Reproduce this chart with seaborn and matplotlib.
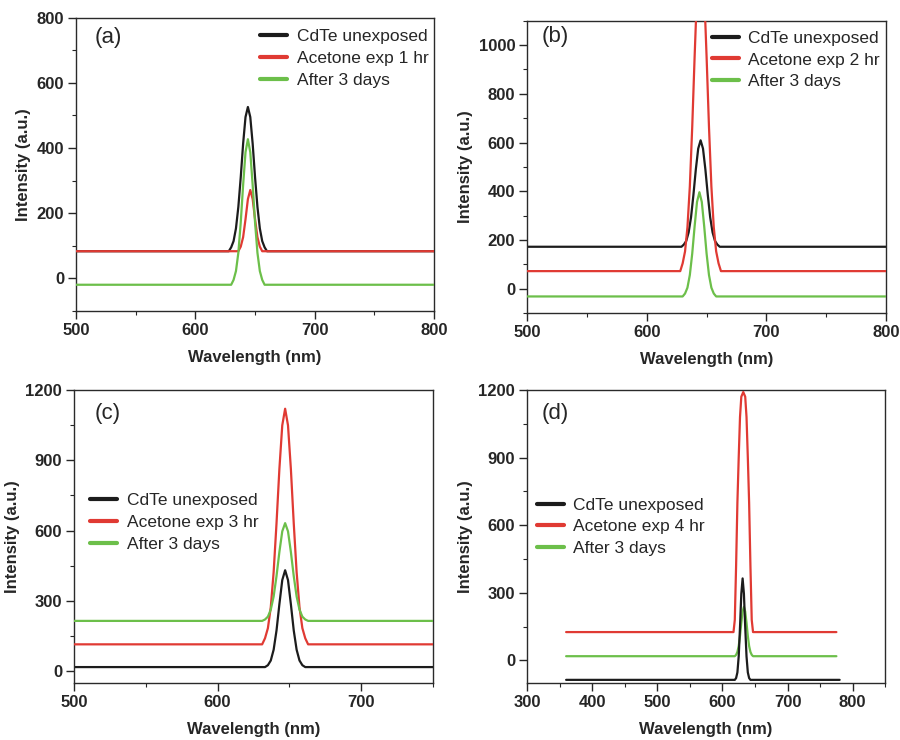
import numpy as np
import matplotlib
matplotlib.use("Agg")
import matplotlib.pyplot as plt
from matplotlib.ticker import MultipleLocator
import seaborn as sns

# --- data (wavelength nm, intensity a.u.) ---
# panel (a)
a_black_x = [500, 628, 630, 632, 634, 636, 638, 640, 642, 644, 646, 648, 650, 652, 654, 656, 658, 660, 800]
a_black_y = [83, 83, 95, 114, 153, 219, 310, 413, 495, 526, 495, 413, 310, 219, 153, 114, 95, 83, 83]
a_red_x = [500, 636, 638, 640, 642, 644, 646, 648, 650, 652, 654, 656, 800]
a_red_y = [83, 83, 97, 126, 181, 243, 271, 243, 181, 126, 97, 83, 83]
a_green_x = [500, 630, 632, 634, 636, 638, 640, 642, 644, 646, 648, 650, 652, 654, 656, 658, 800]
a_green_y = [-20, -20, -5, 22, 78, 171, 286, 387, 427, 387, 286, 171, 78, 22, -5, -20, -20]

# panel (b)
b_black_x = [500, 629, 631, 633, 635, 637, 639, 641, 643, 645, 647, 649, 651, 653, 655, 657, 659, 661, 800]
b_black_y = [172, 172, 181, 196, 231, 293, 385, 489, 575, 609, 575, 489, 385, 293, 231, 196, 181, 172, 172]
b_red_x = [500, 628, 630, 632, 634, 636, 638, 640, 642, 644, 646, 648, 650, 652, 654, 656, 658, 660, 662, 800]
b_red_y = [72, 72, 104, 153, 252, 420, 664, 952, 1218, 1381, 1381, 1218, 952, 664, 420, 252, 153, 104, 72, 72]
b_green_x = [500, 630, 632, 634, 636, 638, 640, 642, 644, 646, 648, 650, 652, 654, 656, 658, 800]
b_green_y = [-32, -32, -20, 4, 56, 144, 256, 356, 396, 356, 256, 144, 56, 4, -20, -32, -32]

# panel (c)
c_black_x = [500, 633, 635, 637, 639, 641, 643, 645, 647, 649, 651, 653, 655, 657, 659, 661, 750]
c_black_y = [18, 18, 26, 46, 92, 174, 286, 389, 431, 389, 286, 174, 92, 46, 26, 18, 18]
c_red_x = [500, 631, 633, 635, 637, 639, 641, 643, 645, 647, 649, 651, 653, 655, 657, 659, 661, 663, 750]
c_red_y = [115, 115, 141, 184, 273, 423, 631, 863, 1049, 1120, 1049, 863, 631, 423, 273, 184, 141, 115, 115]
c_green_x = [500, 631, 633, 635, 637, 639, 641, 643, 645, 647, 649, 651, 653, 655, 657, 659, 661, 663, 750]
c_green_y = [215, 215, 221, 233, 263, 319, 406, 509, 597, 632, 597, 509, 406, 319, 263, 233, 221, 215, 215]

# panel (d)
d_black_x = [360, 619, 621, 623, 625, 627, 629, 631, 633, 635, 637, 639, 641, 643, 780]
d_black_y = [-86, -86, -78, -53, 18, 148, 296, 364, 296, 148, 18, -53, -78, -86, -86]
d_red_x = [360, 617, 619, 621, 623, 625, 627, 629, 632, 635, 637, 639, 641, 643, 645, 647, 775]
d_red_y = [126, 126, 180, 420, 700, 900, 1080, 1170, 1191, 1170, 1080, 900, 700, 420, 180, 126, 126]
d_green_x = [360, 619, 621, 623, 625, 627, 629, 631, 633, 635, 637, 639, 641, 643, 645, 647, 775]
d_green_y = [19, 19, 25, 38, 64, 109, 167, 217, 238, 217, 167, 109, 64, 38, 25, 19, 19]

labels_black = "CdTe unexposed"
labels_red = ["Acetone exp 1 hr", "Acetone exp 2 hr", "Acetone exp 3 hr", "Acetone exp 4 hr"]
labels_green = "After 3 days"
panel_tags = ["(a)", "(b)", "(c)", "(d)"]

sns.set_style("ticks")
plt.rcParams['font.family'] = ['Liberation Sans', 'DejaVu Sans']

BLACK = "#1c1c1c"
RED = "#e03a33"
GREEN = "#6cbf4a"

fig = plt.figure(figsize=(9, 7.4), dpi=100)

panels = [
    dict(rect=[0.0844, 0.580, 0.398, 0.396], xlim=(500, 800), ylim=(-100, 800),
         xmaj=100, xmin=50, ymaj=200, ymin=100,
         data=[(a_black_x, a_black_y), (a_red_x, a_red_y), (a_green_x, a_green_y)],
         leg=(0.514, 0.961), tag=(0.053, 0.932)),
    dict(rect=[0.5856, 0.577, 0.399, 0.395], xlim=(500, 800), ylim=(-100, 1100),
         xmaj=100, xmin=50, ymaj=200, ymin=100,
         data=[(b_black_x, b_black_y), (b_red_x, b_red_y), (b_green_x, b_green_y)],
         leg=(0.514, 0.966), tag=(0.042, 0.945)),
    dict(rect=[0.0822, 0.077, 0.399, 0.396], xlim=(500, 750), ylim=(-50, 1200),
         xmaj=100, xmin=50, ymaj=300, ymin=150,
         data=[(c_black_x, c_black_y), (c_red_x, c_red_y), (c_green_x, c_green_y)],
         leg=(0.045, 0.648), tag=(0.058, 0.921)),
    dict(rect=[0.5856, 0.077, 0.398, 0.396], xlim=(300, 850), ylim=(-100, 1200),
         xmaj=100, xmin=50, ymaj=300, ymin=150,
         data=[(d_black_x, d_black_y), (d_red_x, d_red_y), (d_green_x, d_green_y)],
         leg=(0.027, 0.633), tag=(0.041, 0.921)),
]

for i, p in enumerate(panels):
    ax = fig.add_axes(p["rect"])
    (bx, by), (rx, ry), (gx, gy) = p["data"]
    sns.lineplot(x=bx, y=by, ax=ax, color=BLACK, lw=1.6, label=labels_black,
                 sort=False, estimator=None, zorder=4 if i == 3 else 2)
    sns.lineplot(x=rx, y=ry, ax=ax, color=RED, lw=1.6, label=labels_red[i],
                 sort=False, estimator=None, zorder=3)
    sns.lineplot(x=gx, y=gy, ax=ax, color=GREEN, lw=1.6, label=labels_green,
                 sort=False, estimator=None, zorder=3)

    ax.set_xlim(*p["xlim"])
    ax.set_ylim(*p["ylim"])
    ax.xaxis.set_major_locator(MultipleLocator(p["xmaj"]))
    ax.xaxis.set_minor_locator(MultipleLocator(p["xmin"]))
    ax.yaxis.set_major_locator(MultipleLocator(p["ymaj"]))
    ax.yaxis.set_minor_locator(MultipleLocator(p["ymin"]))
    if i == 2:
        ax.set_xticks([500, 600, 700])
    ax.tick_params(which="major", direction="out", length=5.5, width=1, labelsize=12, pad=3)
    ax.tick_params(which="minor", direction="out", length=3, width=0.8)
    for lab in ax.get_xticklabels() + ax.get_yticklabels():
        lab.set_fontweight("bold")
    for s in ax.spines.values():
        s.set_visible(True)
        s.set_color("#2a2a2a")
        s.set_linewidth(1.0)

    ax.set_xlabel("Wavelength (nm)", fontsize=12, fontweight="bold", labelpad=9)
    ax.set_ylabel("Intensity (a.u.)", fontsize=12, fontweight="bold", labelpad=4)

    leg = ax.legend(loc="upper left", bbox_to_anchor=p["leg"], frameon=False,
                    fontsize=12.5, handlelength=1.55, handletextpad=0.55,
                    labelspacing=0.38, borderpad=0, borderaxespad=0)
    for h in leg.get_lines():
        h.set_linewidth(3)

    ax.text(p["tag"][0], p["tag"][1], panel_tags[i], transform=ax.transAxes,
            fontsize=16, va="center", ha="left")

fig.savefig("out.png", dpi=100)
